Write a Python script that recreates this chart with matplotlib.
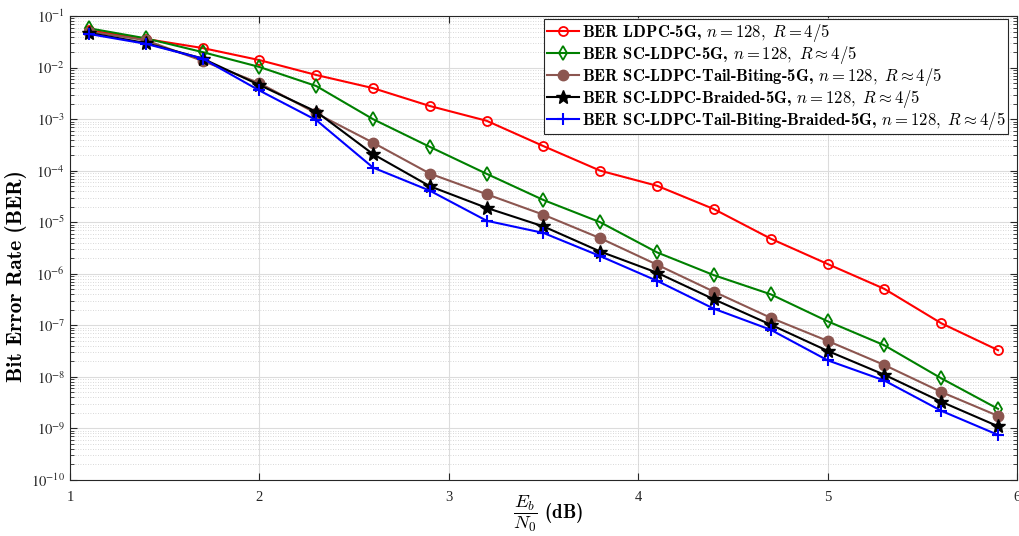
import math
import matplotlib
matplotlib.use("Agg")
import matplotlib.pyplot as plt
from matplotlib.font_manager import FontProperties
from matplotlib.ticker import LogLocator, FuncFormatter

plt.rcParams['font.family'] = ['Liberation Serif', 'DejaVu Serif']
plt.rcParams['mathtext.fontset'] = 'stix'

# Eb/N0 (dB)
ebn0 = [1.1, 1.4, 1.7, 2.0, 2.3, 2.6, 2.9, 3.2, 3.5, 3.8, 4.1, 4.4, 4.7, 5.0, 5.3, 5.6, 5.9]

ber_ldpc = [5.3e-2, 3.6e-2, 2.4e-2, 1.4e-2, 7.2e-3, 4.0e-3, 1.8e-3, 9.3e-4, 3.0e-4, 1.0e-4,
            5.1e-5, 1.8e-5, 4.8e-6, 1.55e-6, 5.1e-7, 1.1e-7, 3.3e-8]
ber_sc = [5.8e-2, 3.7e-2, 2.0e-2, 1.03e-2, 4.4e-3, 1.0e-3, 2.9e-4, 8.7e-5, 2.7e-5, 1.0e-5,
          2.6e-6, 9.4e-7, 4.0e-7, 1.2e-7, 4.1e-8, 9.4e-9, 2.4e-9]
ber_sc_tb = [5.0e-2, 3.4e-2, 1.35e-2, 5.0e-3, 1.3e-3, 3.5e-4, 8.8e-5, 3.5e-5, 1.4e-5, 4.9e-6,
             1.5e-6, 4.5e-7, 1.4e-7, 5.0e-8, 1.7e-8, 5.1e-9, 1.75e-9]
ber_sc_br = [4.7e-2, 3.0e-2, 1.5e-2, 4.6e-3, 1.4e-3, 2.1e-4, 5.0e-5, 1.9e-5, 8.3e-6, 2.7e-6,
             1.05e-6, 3.2e-7, 1.03e-7, 3.2e-8, 1.1e-8, 3.3e-9, 1.1e-9]
ber_sc_tb_br = [4.5e-2, 2.9e-2, 1.5e-2, 3.6e-3, 9.6e-4, 1.15e-4, 4.1e-5, 1.07e-5, 6.2e-6, 2.2e-6,
                7.3e-7, 2.1e-7, 8.2e-8, 2.1e-8, 8.5e-9, 2.2e-9, 7.5e-10]

labels = [
    r'BER LDPC-5G, $n=128,\ R=4/5$',
    r'BER SC-LDPC-5G, $n=128,\ R\approx 4/5$',
    r'BER SC-LDPC-Tail-Biting-5G, $n=128,\ R\approx 4/5$',
    r'BER SC-LDPC-Braided-5G, $n=128,\ R\approx 4/5$',
    r'BER SC-LDPC-Tail-Biting-Braided-5G, $n=128,\ R\approx 4/5$',
]

fig = plt.figure(figsize=(10.19, 5.36), dpi=100)
ax = fig.add_axes([0.0687, 0.1045, 0.9293, 0.8655])

ax.semilogy(ebn0, ber_ldpc, '-o', color='#ff0000', lw=1.5, ms=6.5, mfc='none', mew=1.3, label=labels[0])
ax.semilogy(ebn0, ber_sc, '-d', color='#008000', lw=1.5, ms=7, mfc='none', mew=1.3, label=labels[1])
ax.semilogy(ebn0, ber_sc_tb, '-o', color='#8c5650', lw=1.5, ms=7.5, label=labels[2])
ax.semilogy(ebn0, ber_sc_br, '-*', color='black', lw=1.5, ms=10, label=labels[3])
ax.semilogy(ebn0, ber_sc_tb_br, '-+', color='#0000ff', lw=1.5, ms=9, mew=1.5, label=labels[4])

ax.set_xlim(1, 6)
ax.set_ylim(1e-10, 1e-1)
ax.set_xticks([1, 2, 3, 4, 5, 6])
ax.yaxis.set_major_locator(LogLocator(base=10, numticks=20))
ax.yaxis.set_minor_locator(LogLocator(base=10, subs=range(2, 10), numticks=20))
ax.yaxis.set_major_formatter(FuncFormatter(lambda v, p: r'$10^{%d}$' % round(math.log10(v))))

ax.grid(True, which='major', color='#dcdcdc', lw=0.8, ls='-')
ax.grid(True, which='minor', axis='y', color='#cccccc', lw=0.6, ls=(0, (1, 2)))
ax.set_axisbelow(True)

for s in ax.spines.values():
    s.set_color('#262626')
    s.set_linewidth(0.8)
ax.tick_params(which='both', direction='in', top=True, right=True, colors='#262626', labelsize=10.5)
ax.tick_params(which='major', length=5)
ax.tick_params(which='minor', length=3)
ax.tick_params(axis='x', pad=8)

ylab = FontProperties(family='cmb10', size=15.5, math_fontfamily='cm')
ax.set_ylabel('Bit Error Rate (BER)', fontproperties=ylab)
ax.yaxis.set_label_coords(-0.045, 0.44)
xlab = FontProperties(family='cmb10', size=13.5, math_fontfamily='cm')
ax.set_xlabel(r'$\dfrac{E_b}{N_0}$ (dB)', fontproperties=xlab)
ax.xaxis.set_label_coords(0.505, -0.03)

leg_font = FontProperties(family='cmb10', size=12, math_fontfamily='cm')
leg = ax.legend(loc='upper right', bbox_to_anchor=(0.9905, 0.9935), prop=leg_font,
                fancybox=False, framealpha=1, edgecolor='#262626', borderpad=0.15,
                labelspacing=0.0, handlelength=1.9, handletextpad=0.2, borderaxespad=0)
leg.get_frame().set_linewidth(0.8)

fig.savefig('out.png', dpi=100)
